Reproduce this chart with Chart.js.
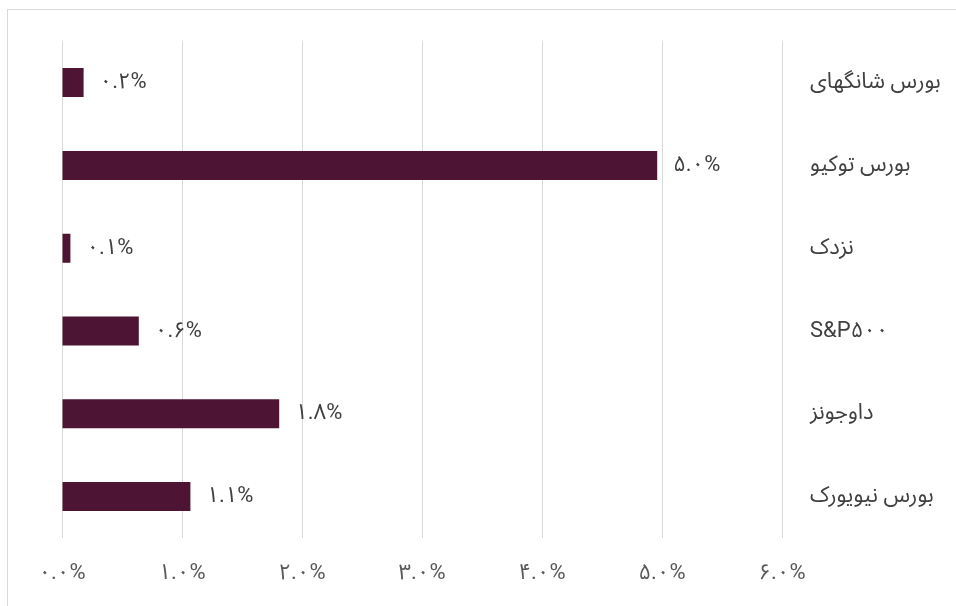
<!DOCTYPE html>
<html>
<head>
<meta charset="utf-8">
<script src="https://cdn.jsdelivr.net/npm/chart.js@4.4.1/dist/chart.umd.min.js"></script>
<style>
  html, body { margin: 0; padding: 0; background: #ffffff; }
  #wrap { position: relative; width: 956px; height: 606px; overflow: hidden; }
  #frame { position: absolute; left: 7px; top: 9px; width: 2000px; height: 2000px;
           border-left: 1px solid #d9d9d9; border-top: 1px solid #d9d9d9; }
  canvas { position: absolute; left: 0; top: 0; }
</style>
</head>
<body>
<div id="wrap">
  <div id="frame"></div>
  <canvas id="c" width="956" height="606"></canvas>
</div>
<script>
// Categories (top to bottom)
const categories = ['بورس شانگهای', 'بورس توکیو', 'نزدک', 'S&P۵۰۰', 'داوجونز', 'بورس نیویورک'];
// Values in percent
const values = [0.18, 4.96, 0.07, 0.64, 1.81, 1.07];
// X axis tick values (percent)
const xTicks = [0, 1, 2, 3, 4, 5, 6];

const persianDigits = ['۰','۱','۲','۳','۴','۵','۶','۷','۸','۹'];
function toFa(s) { return String(s).replace(/[0-9]/g, d => persianDigits[+d]); }
function fmtPct(v) { return toFa(v.toFixed(1)) + '%'; }

const FONT = "Roboto, 'Noto Sans Arabic', 'Noto Naskh Arabic', 'DejaVu Sans', sans-serif";

const dataLabels = {
  id: 'dataLabels',
  afterDatasetsDraw(chart) {
    const ctx = chart.ctx;
    const meta = chart.getDatasetMeta(0);
    ctx.save();
    ctx.font = '22px ' + FONT;
    ctx.fillStyle = '#404040';
    ctx.textAlign = 'left';
    ctx.textBaseline = 'middle';
    meta.data.forEach((el, i) => {
      ctx.fillText(fmtPct(values[i]), el.x + 16, el.y);
    });
    ctx.restore();
  }
};

new Chart(document.getElementById('c'), {
  type: 'bar',
  data: {
    labels: categories,
    datasets: [{
      data: values,
      backgroundColor: '#4e1433',
      borderWidth: 0,
      barPercentage: 0.7,
      categoryPercentage: 0.5
    }]
  },
  options: {
    indexAxis: 'y',
    responsive: false,
    animation: false,
    devicePixelRatio: 1,
    layout: { padding: { left: 62, top: 38, right: 0, bottom: 0 } },
    plugins: { legend: { display: false }, tooltip: { enabled: false } },
    scales: {
      x: {
        type: 'linear',
        min: 0, max: 6,
        afterBuildTicks: (scale) => { scale.ticks = xTicks.map(v => ({ value: v })); },
        ticks: {
          callback: (v) => fmtPct(v),
          font: { size: 22, family: FONT },
          color: '#595959',
          padding: 22,
          maxRotation: 0
        },
        grid: { color: '#d9d9d9', lineWidth: 1, drawTicks: false },
        border: { display: false },
        afterFit: (scale) => { scale.height = 68; }
      },
      y: {
        position: 'right',
        ticks: {
          font: { size: 22, family: FONT },
          color: '#404040',
          padding: 28,
          crossAlign: 'near'
        },
        grid: { display: false, drawTicks: false },
        border: { display: false },
        afterFit: (scale) => { scale.width = 174; }
      }
    }
  },
  plugins: [dataLabels]
});
</script>
</body>
</html>
